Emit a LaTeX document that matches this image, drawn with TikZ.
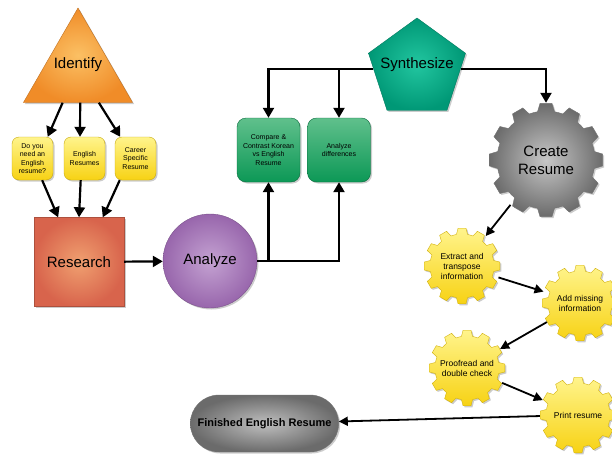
\documentclass[tikz,border=0pt]{standalone}
\usepackage{fontspec}
\setmainfont{Liberation Sans}
\usetikzlibrary{shapes.geometric,shapes.misc,arrows.meta,shadows,calc}

\definecolor{orangein}{RGB}{251,192,100}
\definecolor{orangeout}{RGB}{240,140,40}
\definecolor{yellowtop}{RGB}{255,244,140}
\definecolor{yellowbot}{RGB}{247,210,20}
\definecolor{redin}{RGB}{240,160,112}
\definecolor{redout}{RGB}{216,100,76}
\definecolor{purplein}{RGB}{196,162,210}
\definecolor{purpleout}{RGB}{152,102,172}
\definecolor{greentop}{RGB}{96,192,140}
\definecolor{greenbot}{RGB}{12,152,86}
\definecolor{tealin}{RGB}{34,198,160}
\definecolor{tealout}{RGB}{0,152,118}

\begin{document}
\begin{tikzpicture}[x=1pt,y=-1pt]
    \tikzstyle{edge}=[draw, line width=2.2pt, -{Triangle[length=10pt,width=11pt]}]
    \tikzstyle{gearedge}=[draw, line width=1.8pt, -{Triangle[length=9pt,width=9pt]}]
    \tikzstyle{shad}=[drop shadow={opacity=0.4,shadow xshift=1.5pt,shadow yshift=-1.5pt}]
    \tikzstyle{bigtext}=[font=\fontsize{15}{18}\selectfont, align=center]
    \tikzstyle{question}=[rectangle,rounded corners=7pt,draw=yellowbot!80!black,top color=yellowtop,bottom color=yellowbot,minimum width=41pt,minimum height=43pt,inner sep=1pt,align=center,font=\fontsize{7}{8.3}\selectfont,shad]
    \tikzstyle{task}=[rectangle,rounded corners=9pt,draw=greenbot!70!black,top color=greentop,bottom color=greenbot,minimum width=63pt,minimum height=64pt,inner sep=1pt,align=center,font=\fontsize{7}{8.5}\selectfont,shad]
    \tikzstyle{graygear}=[draw=black!55,inner color=black!22,outer color=black!58]
    \tikzstyle{yellowgear}=[draw=yellowbot!85!black,top color=yellowtop,bottom color=yellowbot]
    \tikzstyle{geartext}=[circle,inner sep=0pt,align=center,font=\fontsize{8.5}{10}\selectfont]
    \path[use as bounding box, clip] (0,0) rectangle (612,455);
    \begin{scope}
        % gear centres
        \coordinate (c0) at (546,160);
        \coordinate (c1) at (462,266);
        \coordinate (c2) at (580,303);
        \coordinate (c3) at (467,368);
        \coordinate (c4) at (578,415);
        \foreach \c/\gro/\gri/\sty in {c0/57/49/graygear, c1/38/32/yellowgear, c2/38/32/yellowgear, c3/38/32/yellowgear, c4/38/32/yellowgear}
            \path[\sty, shad, shift={(\c)}] (-10:\gri)
                \foreach \a in {0,30,...,330} {-- (\a-10:\gri) -- (\a-6:\gro) -- (\a+6:\gro) -- (\a+10:\gri) -- (\a+15:\gri)} -- cycle;

        \node [regular polygon,regular polygon sides=3,minimum size=126pt,inner sep=0pt,draw=orangeout!80!black,inner color=orangein,outer color=orangeout,shad,label={[bigtext,yshift=6pt]center:Identify}] (ident) at (78,71) {};
        \node [question] (q1) at (32.5,158.5) {Do you\\need an\\English\\resume?};
        \node [question] (q2) at (84.5,158.5) {English\\Resumes};
        \node [question] (q3) at (135.5,158.5) {Career\\Specific\\Resume};
        \node [rectangle,minimum width=90pt,minimum height=89pt,draw=redout!80!black,inner color=redin,outer color=redout,shad,bigtext] (res) at (79,262) {Research};
        \node [circle,minimum size=94pt,draw=purpleout!80!black,inner color=purplein,outer color=purpleout,shad,bigtext] (an) at (210,261) {Analyze};
        \node [task] (cmp) at (268.5,150) {Compare \&\\Contrast Korean\\vs English\\Resume};
        \node [task] (diff) at (339,150) {Analyze\\differences};
        \node [regular polygon,regular polygon sides=5,minimum size=102pt,inner sep=0pt,draw=tealout!80!black,inner color=tealin,outer color=tealout,shad,label={[bigtext,yshift=4pt]center:Synthesize}] (syn) at (417,69) {};
        \node [geartext,minimum size=114pt,bigtext] (cr) at (c0) {Create\\Resume};
        \node [geartext,minimum size=76pt] (g1) at (c1) {Extract and\\transpose\\information};
        \node [geartext,minimum size=76pt] (g2) at (c2) {Add missing\\information};
        \node [geartext,minimum size=76pt] (g3) at (c3) {Proofread and\\double check};
        \node [geartext,minimum size=76pt] (g4) at (c4) {Print resume};
        \node [rounded rectangle,minimum width=155pt,minimum height=57pt,draw=black!55,inner color=black!25,outer color=black!58,shad,font=\fontsize{11}{13}\selectfont\bfseries] (fin) at (264.5,423.5) {Finished English Resume};

        \path[edge] ($(ident.corner 2)!0.36!(ident.corner 3)$) -- (q1.55);
        \path[edge] ($(ident.corner 2)!0.52!(ident.corner 3)$) -- (q2.north -| 80,0);
        \path[edge] ($(ident.corner 2)!0.69!(ident.corner 3)$) -- (q3.125);
        \path[edge] (q1.-66) -- (res.115);
        \path[edge] (q2.-100) -- (res.north);
        \path[edge] (q3.-126) -- (res.62);
        \path[edge] (res) edge (an);
        \draw[edge] (an.east) -| (cmp.south);
        \draw[edge] (an.east) -| (diff.south);
        \draw[edge] (syn.west) -| (cmp.north);
        \draw[edge] (syn.west) -| (diff.north);
        \draw[edge] (syn.east) -| (cr.north);
        \path[gearedge] (cr) edge (g1);
        \path[gearedge] (g1) edge (g2);
        \path[gearedge] (g2) edge (g3);
        \path[gearedge] (g3) edge (g4);
        \path[gearedge] (g4) edge (fin);
    \end{scope}
\end{tikzpicture}
\end{document}
